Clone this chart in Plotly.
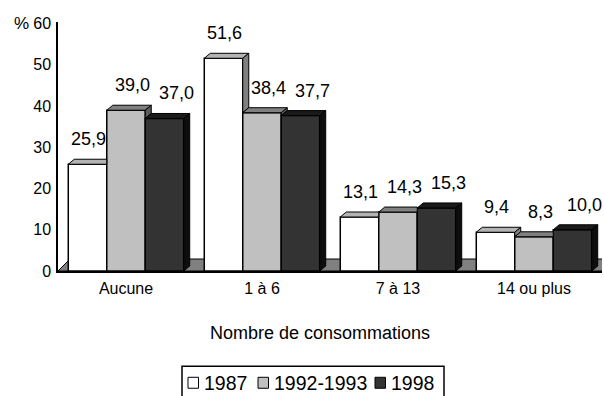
import plotly.graph_objects as go

# Data
categories = ["Aucune", "1 à 6", "7 à 13", "14 ou plus"]
series_names = ["1987", "1992-1993", "1998"]
values_1987 = [25.9, 51.6, 13.1, 9.4]
values_1992 = [39.0, 38.4, 14.3, 8.3]
values_1998 = [37.0, 37.7, 15.3, 10.0]
y_ticks = [0, 10, 20, 30, 40, 50, 60]

series_values = [values_1987, values_1992, values_1998]

# Styling: front, top and side colours of the pseudo-3D columns
front_colors = ["#ffffff", "#c0c0c0", "#333333"]
top_colors = ["#b4b4b4", "#808080", "#1a1a1a"]
side_colors = ["#808080", "#5c5c5c", "#0e0e0e"]

FONT = "Liberation Sans, Arial, sans-serif"
W, H = 604, 396
M_L, M_R, M_T, M_B = 58, 2, 22, 124.5
X_RANGE = [-0.5, 3.5]
Y_RANGE = [0, 60.4]
plot_w = W - M_L - M_R
plot_h = H - M_T - M_B
px_x = plot_w / (X_RANGE[1] - X_RANGE[0])
px_y = plot_h / (Y_RANGE[1] - Y_RANGE[0])

BAR_W = 0.283                 # width of one column in category units
DEPTH_DX = 6 / px_x           # oblique depth of a column
DEPTH_DY = 5 / px_y
FLOOR_DX = 12 / px_x          # oblique depth of the floor
FLOOR_DY = 12 / px_y
LABEL_SHIFT = 5.5             # label drift to the right per series (px)


def paper_x(px):
    return (px - M_L) / plot_w


def paper_y(py):
    return (H - M_B - py) / plot_h


fig = go.Figure()

# Floor of the chart
fig.add_shape(
    type="path",
    xref="x", yref="y", layer="below",
    path=(f"M {X_RANGE[0]},{Y_RANGE[0]} L {X_RANGE[0] + FLOOR_DX},{FLOOR_DY} "
          f"L {X_RANGE[1] + FLOOR_DX},{FLOOR_DY} L {X_RANGE[1]},{Y_RANGE[0]} Z"),
    fillcolor="#808080", line=dict(color="#000000", width=1),
)

n_series = len(series_values)
cat_idx = list(range(len(categories)))

# Front faces of the columns
for s, (name, vals) in enumerate(zip(series_names, series_values)):
    fig.add_trace(go.Bar(
        x=cat_idx, y=vals, name=name,
        offset=(s - n_series / 2) * BAR_W, width=BAR_W,
        marker=dict(color=front_colors[s], line=dict(color="#000000", width=1.5)),
        hoverinfo="skip", showlegend=False,
    ))


def face(xs, ys, color):
    fig.add_trace(go.Scatter(
        x=xs + [xs[0]], y=ys + [ys[0]], mode="lines", fill="toself",
        fillcolor=color, line=dict(color="#000000", width=1),
        showlegend=False, hoverinfo="skip",
    ))


# Top and right-side faces, trimmed where the neighbouring column hides them
for c in cat_idx:
    for s in range(n_series):
        v = series_values[s][c]
        x0 = c + (s - n_series / 2) * BAR_W
        x1 = x0 + BAR_W
        nv = series_values[s + 1][c] if s + 1 < n_series else 0.0
        if v > nv:
            face([x0, x0 + DEPTH_DX, x1 + DEPTH_DX, x1],
                 [v, v + DEPTH_DY, v + DEPTH_DY, v], top_colors[s])
            face([x1, x1, x1 + DEPTH_DX, x1 + DEPTH_DX],
                 [nv, v, v + DEPTH_DY, nv + DEPTH_DY], side_colors[s])
        else:
            face([x0, x0 + DEPTH_DX, x1, x1],
                 [v, v + DEPTH_DY, v + DEPTH_DY, v], top_colors[s])

# Value labels above each column
for c in cat_idx:
    for s in range(n_series):
        v = series_values[s][c]
        xc = c + (s - n_series / 2) * BAR_W + BAR_W / 2
        fig.add_annotation(
            x=xc, y=v, xref="x", yref="y",
            text=f"{v:.1f}".replace(".", ","),
            showarrow=False, yanchor="bottom", xanchor="center",
            xshift=1 + LABEL_SHIFT * s, yshift=13,
            font=dict(family=FONT, size=18, color="#000000"),
        )

# Unit label and axis title
fig.add_annotation(
    x=paper_x(21.5), y=paper_y(23.5),
    xref="paper", yref="paper", text="%", showarrow=False,
    xanchor="center", yanchor="middle",
    font=dict(family=FONT, size=17, color="#000000"),
)
fig.add_annotation(
    x=paper_x(320), y=paper_y(334),
    xref="paper", yref="paper", text="Nombre de consommations",
    showarrow=False, xanchor="center", yanchor="middle",
    font=dict(family=FONT, size=18, color="#000000"),
)

# Boxed legend below the chart
LEG_BOX = (182, 444, 367, 404)
LEG_ITEM_X = [188, 258, 375]
LEG_SQ_W, LEG_SQ_H, LEG_MID = 10.5, 11, 383.5
fig.add_shape(
    type="rect", xref="paper", yref="paper",
    x0=paper_x(LEG_BOX[0]), x1=paper_x(LEG_BOX[1]),
    y0=paper_y(LEG_BOX[3]), y1=paper_y(LEG_BOX[2]),
    line=dict(color="#000000", width=1.5), fillcolor="#ffffff",
)
for s, name in enumerate(series_names):
    lx = LEG_ITEM_X[s]
    fig.add_shape(
        type="rect", xref="paper", yref="paper",
        x0=paper_x(lx), x1=paper_x(lx + LEG_SQ_W),
        y0=paper_y(LEG_MID + LEG_SQ_H / 2), y1=paper_y(LEG_MID - LEG_SQ_H / 2),
        line=dict(color="#000000", width=1), fillcolor=front_colors[s],
    )
    fig.add_annotation(
        x=paper_x(lx + LEG_SQ_W + 3), y=paper_y(LEG_MID),
        xref="paper", yref="paper", text=name, showarrow=False,
        xanchor="left", yanchor="middle",
        font=dict(family=FONT, size=19.5, color="#000000"),
    )

fig.update_layout(
    width=W, height=H,
    margin=dict(l=M_L, r=M_R, t=M_T, b=M_B),
    paper_bgcolor="#ffffff", plot_bgcolor="#ffffff",
    barmode="overlay",
    showlegend=False,
    xaxis=dict(
        range=X_RANGE, tickvals=cat_idx, ticktext=categories,
        showgrid=False, zeroline=False,
        showline=True, linecolor="#000000", linewidth=2,
        ticks="", ticklabelstandoff=2,
        tickfont=dict(family=FONT, size=16, color="#000000"),
    ),
    yaxis=dict(
        range=Y_RANGE, tickvals=y_ticks,
        showgrid=False, zeroline=False,
        showline=True, linecolor="#000000", linewidth=1.5,
        ticks="", ticklabelstandoff=2,
        tickfont=dict(family=FONT, size=16, color="#000000"),
    ),
)

fig.write_html("out.html")
